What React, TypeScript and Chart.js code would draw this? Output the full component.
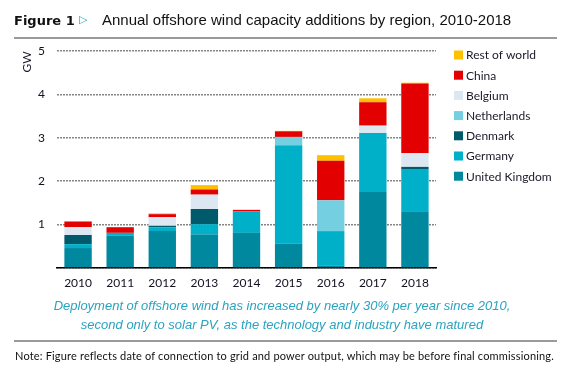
import React, { useEffect, useRef } from "react";
import { Chart, registerables } from "chart.js";

Chart.register(...registerables);

const years = ["2010", "2011", "2012", "2013", "2014", "2015", "2016", "2017", "2018"];
const unitedKingdom = [0.46, 0.75, 0.85, 0.77, 0.81, 0.56, 0.05, 1.75, 1.31];
const germany = [0.09, 0.06, 0.09, 0.24, 0.5, 2.27, 0.8, 1.36, 0.97];
const denmark = [0.21, 0, 0.03, 0.35, 0, 0, 0, 0, 0.05];
const netherlands = [0, 0, 0.01, 0, 0, 0.19, 0.71, 0, 0];
const belgium = [0.18, 0, 0.19, 0.33, 0, 0, 0, 0.17, 0.32];
const china = [0.13, 0.13, 0.07, 0.12, 0.03, 0.13, 0.91, 0.54, 1.6];
const restOfWorld = [0.01, 0, 0.02, 0.1, 0, 0.01, 0.13, 0.09, 0.02];
const yTicks = [0, 1, 2, 3, 4, 5];

const seriesNames = ["United Kingdom", "Germany", "Denmark", "Netherlands", "Belgium", "China", "Rest of world"];
const seriesValues = [unitedKingdom, germany, denmark, netherlands, belgium, china, restOfWorld];
const seriesColors = ["#00889f", "#00afc8", "#005a69", "#74cfe0", "#dce7f2", "#e30000", "#ffc000"];

const TEXT_FONT = "Lato, 'Open Sans', sans-serif";

const customLegend = {
  id: "customLegend",
  afterDraw(chart: any) {
    const ctx = chart.ctx;
    const ds = chart.data.datasets;
    ctx.save();
    ctx.font = `12px ${TEXT_FONT}`;
    ctx.textBaseline = "middle";
    ctx.textAlign = "left";
    const x = 454;
    let y = 55;
    for (let i = ds.length - 1; i >= 0; i--) {
      ctx.fillStyle = ds[i].backgroundColor;
      ctx.fillRect(x, y - 4.5, 9, 9);
      ctx.fillStyle = "#1a1a2a";
      ctx.fillText(ds[i].label, x + 12, y + 0.5);
      y += 20.2;
    }
    ctx.restore();
  },
};

const unitLabel = {
  id: "unitLabel",
  afterDraw(chart: any) {
    const ctx = chart.ctx;
    ctx.save();
    ctx.translate(27, 62);
    ctx.rotate(-Math.PI / 2);
    ctx.font = `12px ${TEXT_FONT}`;
    ctx.fillStyle = "#1a1a2a";
    ctx.textAlign = "center";
    ctx.textBaseline = "middle";
    ctx.fillText("GW", 0, 0);
    ctx.restore();
  },
};

function ChartCanvas() {
  const ref = useRef<HTMLCanvasElement | null>(null);
  useEffect(() => {
    if (!ref.current) return;
    const chart = new Chart(ref.current, {
      type: "bar",
      data: {
        labels: years,
        datasets: seriesNames.map((name, i) => ({
          label: name,
          data: seriesValues[i],
          backgroundColor: seriesColors[i],
          borderWidth: 0,
          barPercentage: 0.65,
          categoryPercentage: 1,
        })),
      },
      options: {
        responsive: false,
        animation: false,
        layout: { padding: { left: 0, top: 51, right: 141, bottom: 0 } },
        plugins: { legend: { display: false }, tooltip: { enabled: false } },
        scales: {
          x: {
            stacked: true,
            grid: { display: false, drawTicks: false },
            border: { display: true, color: "#000000", width: 1.5 },
            ticks: { font: { family: TEXT_FONT, size: 12 }, color: "#111120", padding: 8 },
            afterFit: (s: any) => {
              s.height = 101;
            },
          },
          y: {
            stacked: true,
            min: 0,
            max: 5,
            afterBuildTicks: (s: any) => {
              s.ticks = yTicks.map((v) => ({ value: v }));
            },
            grid: { color: "#858585", lineWidth: 1.5, drawTicks: false },
            border: { display: false, dash: [2, 1] },
            ticks: {
              font: { family: TEXT_FONT, size: 12 },
              color: "#111120",
              padding: 12,
              callback: (v: any) => (v === 0 ? "" : String(v)),
            },
            afterFit: (s: any) => {
              s.width = 57;
            },
          },
        },
      },
      plugins: [customLegend, unitLabel],
    });
    return () => chart.destroy();
  }, []);
  return <canvas ref={ref} width={577} height={369} style={{ position: "absolute", left: 0, top: 0, width: 577, height: 369 }} />;
}

export default function App() {
  return (
    <div style={{ position: "absolute", left: 0, top: 0, width: 577, height: 369, background: "#fff", overflow: "hidden" }}>
      <ChartCanvas />
      <div style={{ position: "absolute", left: 14, top: 12, whiteSpace: "nowrap", lineHeight: "15px" }}>
        <span style={{ fontFamily: "'DejaVu Sans'", fontWeight: 900, fontSize: 13, color: "#111" }}>Figure 1</span>
        <span style={{ position: "absolute", left: 65, top: 0, fontFamily: "'DejaVu Sans'", fontWeight: 700, fontSize: 11, color: "#1aa0c0" }}>▷</span>
        <span style={{ position: "absolute", left: 88, top: 0, fontFamily: "'Liberation Sans', Arial, sans-serif", fontSize: 15, color: "#111" }}>
          Annual offshore wind capacity additions by region, 2010-2018
        </span>
      </div>
      <div style={{ position: "absolute", left: 14, top: 37, width: 543, height: 2, background: "#9a9a9a" }} />
      <div
        style={{
          position: "absolute",
          left: 0,
          width: 564,
          top: 296,
          textAlign: "center",
          fontFamily: "'Liberation Sans', Arial, sans-serif",
          fontStyle: "italic",
          fontSize: 13,
          lineHeight: "19px",
          color: "#2aa3bf",
        }}
      >
        <div>Deployment of offshore wind has increased by nearly 30% per year since 2010,</div>
        <div>second only to solar PV, as the technology and industry have matured</div>
      </div>
      <div style={{ position: "absolute", left: 14, top: 340, width: 543, height: 2, background: "#9a9a9a" }} />
      <div
        style={{
          position: "absolute",
          left: 15,
          top: 349,
          whiteSpace: "nowrap",
          fontFamily: TEXT_FONT,
          fontSize: 11,
          letterSpacing: "0.17px",
          lineHeight: "14px",
          color: "#111",
        }}
      >
        Note: Figure reflects date of connection to grid and power output, which may be before final commissioning.
      </div>
    </div>
  );
}
